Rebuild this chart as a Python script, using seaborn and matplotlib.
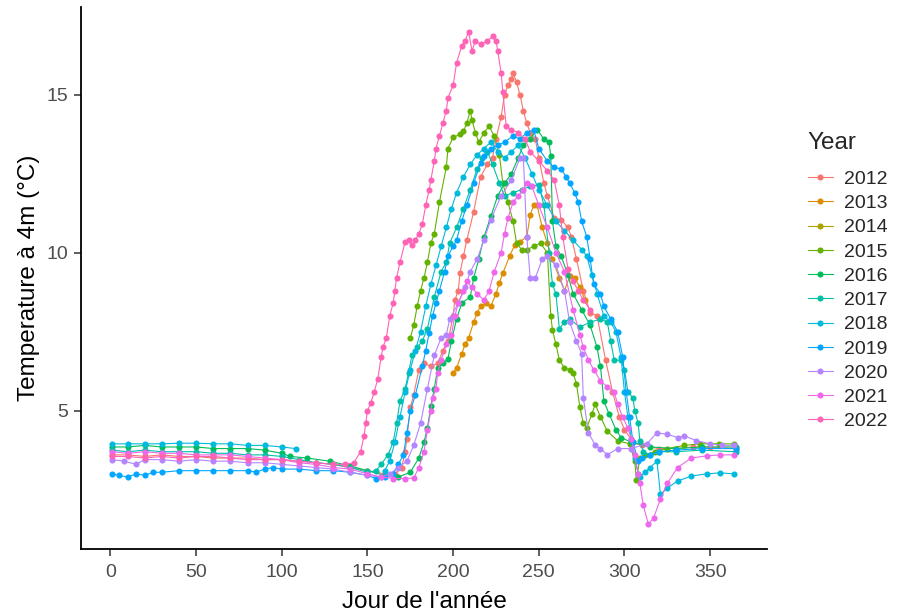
import numpy as np
import pandas as pd
import matplotlib
matplotlib.use("Agg")
import matplotlib.pyplot as plt
from matplotlib.lines import Line2D
import seaborn as sns

# ==========================================
# Data: (day of year, temperature at 4 m)
# ==========================================
YEARS = [2012, 2013, 2014, 2015, 2016, 2017, 2018, 2019, 2020, 2021, 2022]
COLORS = ["#F8766D", "#DB8E00", "#AEA200", "#64B200", "#00BD5C", "#00C1A7",
          "#00BADE", "#00A6FF", "#B385FF", "#EF67EB", "#FF63B6"]

t2012 = [(1, 3.6), (10, 3.6), (20, 3.55), (30, 3.6), (40, 3.55), (50, 3.55), (60, 3.5),
         (70, 3.5), (80, 3.5), (90, 3.45), (100, 3.45), (110, 3.4), (120, 3.35), (130, 3.3),
         (140, 3.2), (150, 3.1), (160, 3.0), (166, 3.0), (170, 3.2), (172, 3.7), (173, 4.1),
         (175, 5.1), (177, 5.5), (180, 6.3), (183, 6.5), (187, 6.4), (191, 6.5), (194, 6.9),
         (197, 7.2), (200, 8.0), (201, 8.5), (203, 8.8), (204, 9.35), (206, 9.9), (208, 10.4),
         (212, 11.3), (216, 12.4), (220, 12.8), (223, 13.0), (225, 13.6), (228, 14.3),
         (230, 15.0), (232, 15.3), (234, 15.5), (235, 15.7), (237, 15.4), (239, 15.0),
         (241, 14.5), (243, 14.1), (245, 13.8), (248, 13.6), (250, 13.0), (253, 12.2),
         (255, 11.8), (259, 11.1), (263, 11.05), (267, 10.8), (269, 10.5), (272, 9.8),
         (276, 8.8), (280, 8.1), (284, 8.0), (289, 6.6), (293, 5.6), (297, 4.8), (300, 4.4),
         (305, 4.0), (310, 3.9), (320, 3.8), (330, 3.8), (340, 3.85), (350, 3.85), (365, 3.8)]

t2013 = [(200, 6.2), (202, 6.35), (205, 6.8), (207, 7.1), (209, 7.3), (212, 7.8), (214, 8.1),
         (216, 8.3), (219, 8.4), (222, 8.3), (225, 8.7), (227, 9.05), (229, 9.35), (233, 9.9),
         (236, 10.25), (239, 10.35), (243, 10.5), (245, 11.2), (247, 11.5), (249, 11.5),
         (252, 10.8), (255, 10.3), (258, 9.8), (262, 9.2), (265, 8.8), (268, 9.25), (271, 9.2),
         (274, 8.9), (277, 8.5)]

t2014 = []

t2015 = [(175, 7.3), (177, 7.7), (179, 8.3), (181, 8.8), (183, 9.2), (185, 9.7), (187, 10.3),
         (189, 10.6), (192, 11.6), (196, 12.7), (197, 13.3), (200, 13.65), (204, 13.75),
         (206, 13.85), (208, 14.1), (210, 14.5), (211, 14.2), (213, 13.8), (215, 13.5),
         (218, 13.8), (221, 14.0), (224, 13.7), (227, 13.1), (229, 12.2), (232, 11.6),
         (235, 11.0), (237, 10.3), (240, 10.1), (243, 10.1), (247, 10.2), (251, 10.3),
         (255, 10.0), (257, 8.0), (258, 7.55), (260, 7.1), (262, 6.6), (265, 6.35), (268, 6.3),
         (270, 6.2), (272, 5.85), (274, 5.1), (276, 4.6), (278, 4.45), (281, 4.9), (283, 5.2),
         (286, 4.8), (290, 4.35), (296, 4.05), (303, 3.95), (306, 3.4), (307, 2.8), (309, 3.5),
         (312, 3.6), (318, 3.7), (325, 3.8), (335, 3.9), (344, 3.95), (355, 3.95), (364, 3.95)]

t2016 = [(1, 3.85), (10, 3.85), (20, 3.9), (30, 3.85), (40, 3.85), (50, 3.85), (60, 3.8),
         (70, 3.8), (80, 3.8), (90, 3.75), (100, 3.65), (105, 3.55), (115, 3.5), (128, 3.4),
         (140, 3.25), (150, 3.1), (160, 2.95), (168, 2.9), (175, 3.05), (180, 3.5), (183, 4.0),
         (185, 4.45), (187, 5.15), (189, 5.7), (191, 6.35), (194, 6.5), (197, 6.65), (199, 7.2),
         (202, 7.9), (205, 8.4), (210, 8.6), (212, 9.2), (215, 9.8), (218, 10.5), (222, 11.15),
         (226, 11.8), (230, 12.2), (234, 12.5), (238, 13.0), (241, 13.4), (245, 13.6),
         (249, 13.9), (253, 13.6), (256, 13.5), (257, 13.05), (258, 11.0), (260, 10.2),
         (263, 9.9), (267, 9.3), (270, 8.7), (275, 8.2), (280, 7.7), (284, 7.0), (286, 6.4),
         (288, 5.3), (291, 4.9), (295, 4.4), (298, 4.15), (304, 4.0), (315, 3.85), (330, 3.8),
         (345, 3.85), (365, 3.85)]

t2017 = [(1, 3.75), (10, 3.7), (20, 3.75), (30, 3.7), (40, 3.7), (50, 3.7), (60, 3.65),
         (70, 3.65), (80, 3.6), (90, 3.6), (100, 3.55), (110, 3.45), (120, 3.35), (130, 3.3),
         (140, 3.2), (150, 3.05), (155, 3.1), (158, 3.3), (162, 3.6), (165, 4.0), (167, 4.6),
         (169, 5.3), (172, 5.7), (174, 6.2), (176, 6.75), (179, 7.0), (182, 7.2), (185, 7.6),
         (189, 8.6), (193, 9.4), (196, 9.7), (198, 10.3), (202, 10.8), (206, 11.4), (210, 12.0),
         (214, 12.65), (217, 13.0), (220, 13.2), (223, 12.8), (227, 12.2), (230, 11.8),
         (235, 11.9), (240, 12.0), (245, 12.1), (250, 12.15), (253, 11.5), (256, 10.0),
         (258, 9.0), (260, 8.7), (262, 7.6), (265, 7.8), (268, 7.9), (274, 7.65), (280, 7.8),
         (286, 7.9), (290, 7.8), (292, 7.2), (294, 6.6), (298, 6.6), (300, 6.3), (302, 5.6),
         (305, 5.4), (306, 5.0), (308, 4.6), (309, 4.05), (311, 3.7), (315, 3.6), (320, 3.7),
         (330, 3.7), (345, 3.75), (365, 3.7)]

# 2018 has a gap after day 108 (winter record stops), summer record resumes later
t2018 = [(1, 3.95), (10, 3.95), (20, 3.95), (30, 3.95), (40, 3.97), (50, 3.97), (60, 3.95),
         (70, 3.95), (80, 3.9), (90, 3.9), (100, 3.85), (108, 3.8), (160, 3.1), (163, 3.4),
         (166, 4.0), (169, 4.8), (172, 5.6), (175, 6.3), (178, 6.9), (181, 7.5), (184, 8.3),
         (187, 9.0), (190, 9.6), (193, 10.2), (196, 10.8), (199, 11.4), (202, 11.9),
         (206, 12.4), (210, 12.8), (214, 13.1), (218, 13.3), (222, 13.5), (226, 13.2),
         (230, 13.0), (234, 13.2), (238, 13.4), (242, 13.0), (246, 12.5), (250, 12.0),
         (255, 11.5), (260, 11.0), (265, 10.7), (270, 10.4), (275, 10.1), (278, 9.9),
         (281, 9.3), (284, 8.7), (288, 8.0), (292, 7.8), (295, 7.5), (298, 6.7), (300, 5.6),
         (302, 4.8), (304, 4.1), (306, 3.5), (308, 3.0), (309, 2.9), (312, 3.05), (315, 3.2),
         (319, 3.4), (321, 2.35), (325, 2.55), (331, 2.77), (339, 2.93), (348, 3.0),
         (356, 3.03), (364, 3.0)]

t2019 = [(1, 3.0), (5, 2.95), (10, 2.9), (15, 3.0), (20, 2.95), (25, 3.05), (30, 3.05),
         (40, 3.1), (50, 3.1), (60, 3.1), (70, 3.1), (80, 3.1), (85, 3.05), (90, 3.15),
         (95, 3.2), (100, 3.15), (110, 3.15), (120, 3.1), (130, 3.1), (140, 3.05), (150, 2.95),
         (155, 2.85), (160, 2.9), (165, 3.0), (168, 3.3), (171, 3.6), (173, 4.3), (175, 5.0),
         (178, 5.5), (182, 6.4), (184, 6.9), (186, 7.45), (188, 8.0), (190, 8.4), (192, 8.8),
         (195, 9.4), (197, 9.9), (200, 10.2), (202, 10.4), (205, 11.0), (208, 11.5),
         (212, 12.2), (216, 12.85), (218, 13.05), (222, 13.3), (226, 13.4), (230, 13.5),
         (235, 13.7), (239, 13.6), (243, 13.8), (247, 13.9), (250, 13.3), (255, 12.9),
         (259, 12.7), (263, 12.65), (266, 12.4), (268, 12.2), (271, 11.9), (273, 11.6),
         (275, 11.0), (278, 10.5), (280, 9.8), (282, 9.0), (286, 8.7), (288, 8.3), (292, 7.9),
         (296, 7.5), (299, 6.7), (301, 5.6), (303, 4.8), (305, 4.0), (308, 3.4), (310, 3.5),
         (315, 3.6), (320, 3.7), (330, 3.75), (345, 3.8), (365, 3.8)]

t2020 = [(1, 3.45), (8, 3.4), (15, 3.3), (20, 3.45), (30, 3.45), (40, 3.4), (50, 3.45),
         (60, 3.4), (70, 3.4), (80, 3.35), (90, 3.35), (100, 3.3), (110, 3.25), (120, 3.2),
         (130, 3.15), (140, 3.05), (150, 2.95), (158, 2.9), (163, 3.0), (168, 3.2), (173, 3.4),
         (177, 3.9), (181, 4.6), (185, 5.7), (189, 6.75), (193, 7.3), (196, 7.4), (198, 7.9),
         (203, 8.4), (207, 8.9), (210, 9.4), (214, 9.8), (218, 10.4), (222, 11.05),
         (228, 11.8), (234, 12.3), (239, 13.0), (241, 13.0), (243, 10.5), (245, 9.2),
         (248, 9.2), (252, 9.8), (255, 9.9), (260, 9.6), (265, 8.8), (268, 7.8), (272, 7.2),
         (275, 6.8), (276, 5.4), (279, 4.3), (283, 3.9), (286, 3.8), (290, 3.6), (296, 3.8),
         (304, 3.8), (313, 3.95), (319, 4.3), (325, 4.25), (331, 4.15), (335, 4.2), (342, 4.05),
         (350, 3.95), (357, 3.9), (364, 3.9)]

t2021 = [(1, 3.7), (10, 3.65), (20, 3.7), (30, 3.65), (40, 3.65), (50, 3.6), (60, 3.6),
         (70, 3.6), (80, 3.55), (90, 3.5), (100, 3.45), (110, 3.35), (120, 3.3), (130, 3.2),
         (140, 3.15), (150, 3.0), (158, 2.9), (165, 2.85), (172, 2.85), (177, 2.87), (180, 3.2),
         (183, 3.7), (185, 4.4), (187, 5.0), (188, 5.4), (190, 5.7), (191, 6.2), (193, 6.6),
         (196, 7.1), (199, 7.4), (201, 8.0), (203, 8.4), (206, 8.8), (208, 9.1), (211, 8.9),
         (214, 8.7), (218, 8.5), (221, 8.8), (224, 9.4), (228, 10.0), (230, 10.6), (232, 11.1),
         (235, 11.6), (238, 11.8), (241, 12.0), (243, 12.2), (246, 12.1), (250, 11.5),
         (255, 10.8), (260, 10.0), (265, 9.4), (270, 8.2), (274, 7.4), (276, 7.0), (279, 6.6),
         (282, 6.3), (286, 5.95), (290, 5.75), (294, 5.6), (296, 5.2), (299, 4.8), (302, 4.45),
         (304, 4.1), (306, 3.6), (308, 3.0), (309, 2.7), (311, 2.0), (314, 1.4), (317, 1.6),
         (321, 2.2), (325, 2.7), (331, 3.2), (339, 3.5), (348, 3.57), (356, 3.6), (364, 3.6)]

t2022 = [(1, 3.55), (10, 3.55), (20, 3.5), (30, 3.55), (40, 3.5), (50, 3.55), (60, 3.55),
         (70, 3.5), (80, 3.45), (90, 3.45), (100, 3.45), (110, 3.4), (120, 3.35), (130, 3.3),
         (137, 3.3), (142, 3.35), (146, 3.7), (148, 4.2), (149, 4.6), (150, 5.0), (152, 5.25),
         (154, 5.6), (156, 6.0), (158, 6.7), (159, 7.0), (161, 7.3), (163, 8.0), (165, 8.4),
         (166, 8.8), (167, 9.2), (169, 9.7), (172, 10.35), (174, 10.4), (176, 10.25),
         (178, 10.4), (180, 10.6), (182, 10.9), (184, 11.5), (186, 12.0), (187, 12.3),
         (189, 12.9), (190, 13.3), (192, 13.7), (194, 14.1), (196, 14.5), (197, 14.9),
         (200, 15.3), (202, 16.0), (205, 16.55), (207, 16.7), (209, 17.0), (211, 16.4),
         (213, 16.7), (216, 16.6), (220, 16.7), (223, 16.85), (225, 16.7), (226, 16.4),
         (228, 15.7), (229, 15.1), (231, 14.0), (234, 13.9), (238, 13.8), (242, 13.6),
         (245, 13.2), (250, 12.9), (255, 12.6), (259, 12.3), (262, 11.5), (264, 10.5),
         (267, 9.5), (270, 9.1), (273, 8.8), (276, 8.5), (280, 8.2)]

SERIES = [t2012, t2013, t2014, t2015, t2016, t2017, t2018, t2019, t2020, t2021, t2022]
GAP_AFTER = {2018: 108}  # last day before a break in the record

X_TICKS = [0, 50, 100, 150, 200, 250, 300, 350]
Y_TICKS = [5, 10, 15]

# long table for seaborn; "seg" splits a year where its record has a gap
rows = []
for yr, pts in zip(YEARS, SERIES):
    for d, t in pts:
        seg = 1 if (yr in GAP_AFTER and d > GAP_AFTER[yr]) else 0
        rows.append({"Jour": d, "Temp": t, "Year": str(yr), "seg": f"{yr}-{seg}"})
df = pd.DataFrame(rows)

levels = [str(y) for y in YEARS]
palette = dict(zip(levels, COLORS))

sns.set_theme(style="ticks")
plt.rcParams['font.family'] = ['Liberation Sans', 'DejaVu Sans']

W, H = 906, 612
fig = plt.figure(figsize=(W / 100, H / 100), dpi=100)
ax = fig.add_axes([81 / W, 1 - 549 / H, (767 - 81) / W, (549 - 7) / H])

sns.lineplot(data=df, x="Jour", y="Temp", hue="Year", hue_order=levels, units="seg",
             palette=palette, estimator=None, marker="o", markersize=4.4,
             markeredgewidth=0, linewidth=0.8, legend=False, ax=ax)

# ggplot-like expansion (5 %)
x0, x1 = df["Jour"].min(), df["Jour"].max()
y0, y1 = df["Temp"].min(), df["Temp"].max()
ax.set_xlim(x0 - 0.05 * (x1 - x0), x1 + 0.05 * (x1 - x0))
ax.set_ylim(y0 - 0.05 * (y1 - y0), y1 + 0.05 * (y1 - y0))
ax.set_xticks(X_TICKS)
ax.set_yticks(Y_TICKS)

for s in ["top", "right"]:
    ax.spines[s].set_visible(False)
for s in ["left", "bottom"]:
    ax.spines[s].set_color("black")
    ax.spines[s].set_linewidth(1.3)
ax.tick_params(length=5, width=1.1, color="#333333", labelcolor="#4D4D4D",
               labelsize=14)
ax.tick_params(axis="x", pad=6)
ax.tick_params(axis="y", pad=4)

ax.set_xlabel("Jour de l'année", fontsize=17.5, color="black", labelpad=7)
ax.set_ylabel("Temperature à 4m (°C)", fontsize=17.5, color="black", labelpad=4.5)

# legend in ggplot style
handles = [Line2D([0], [0], color=c, marker="o", markersize=4.4, markeredgewidth=0,
                  linewidth=0.8) for c in COLORS]
leg = fig.legend(handles, levels, title="Year", loc="upper left",
                 bbox_to_anchor=(800 / W, 1 - 124 / H), frameon=False,
                 fontsize=14, title_fontsize=17.5, handlelength=1.3,
                 handletextpad=0.55, labelspacing=0.34, borderaxespad=0)
leg._legend_box.align = "left"
leg._legend_box.sep = 12

fig.savefig("out.png", dpi=100)
